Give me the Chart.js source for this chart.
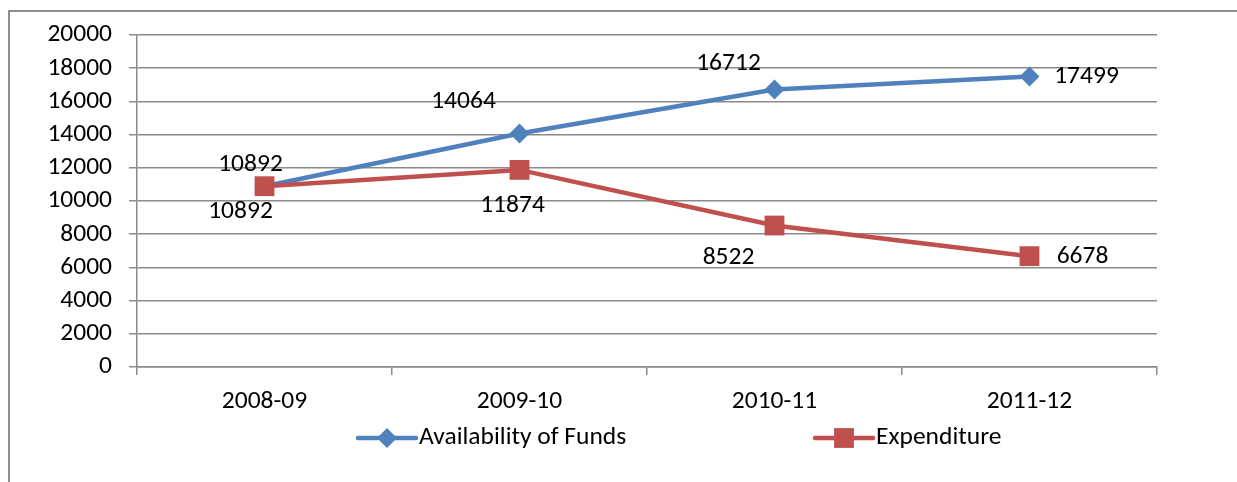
<!DOCTYPE html>
<html>
<head>
<meta charset="utf-8">
<script src="https://cdn.jsdelivr.net/npm/chart.js@4/dist/chart.umd.min.js"></script>
<style>
  html, body { margin: 0; padding: 0; background: #fff; overflow: hidden; }
  #frame { position: absolute; left: 8px; top: 10px; width: 1300px; height: 600px; border: 2px solid #8f8f8f; box-sizing: border-box; }
  #chart { position: absolute; left: 0; top: 0; }
</style>
</head>
<body>
<div id="frame"></div>
<canvas id="chart" width="1237" height="482"></canvas>
<script>
// ------ Data ------
const years        = ['2008-09', '2009-10', '2010-11', '2011-12'];
const availability = [10892, 14064, 16712, 17499];
const expenditure  = [10892, 11874, 8522, 6678];
const yTicks       = [0, 2000, 4000, 6000, 8000, 10000, 12000, 14000, 16000, 18000, 20000];

const BLUE  = '#4F81BD';
const RED   = '#C0504D';
const GRID  = '#8a8a8a';
const FONT  = 'Carlito, Calibri, "Liberation Sans", sans-serif';
const FSIZE = 25.5;

// label offsets from each point (dx, dy), per series
const labelOffsets = [
  [[-14, -22], [-56, -32], [-46, -26], [57, 0]],
  [[-24, 25], [-7, 36], [-46, 32], [53, 0]]
];

// ------ Plugins ------
const dataLabels = {
  id: 'dataLabels',
  afterDatasetsDraw(chart) {
    const { ctx } = chart;
    ctx.save();
    ctx.font = `${FSIZE}px ${FONT}`;
    ctx.fillStyle = '#000';
    ctx.textAlign = 'center';
    ctx.textBaseline = 'middle';
    chart.data.datasets.forEach((ds, i) => {
      const meta = chart.getDatasetMeta(i);
      meta.data.forEach((pt, j) => {
        const [dx, dy] = labelOffsets[i][j];
        ctx.fillText(String(ds.data[j]), pt.x + dx, pt.y + dy);
      });
    });
    ctx.restore();
  }
};

// legend positions (left end of each sample line)
const legendX = [358, 815];
const legendY = 438;

const customLegend = {
  id: 'customLegend',
  afterDraw(chart) {
    const { ctx } = chart;
    ctx.save();
    ctx.font = `${FSIZE}px ${FONT}`;
    ctx.textBaseline = 'middle';
    ctx.textAlign = 'left';
    chart.data.datasets.forEach((ds, i) => {
      const x0 = legendX[i], len = 58, cx = x0 + len / 2;
      ctx.strokeStyle = ds.borderColor;
      ctx.lineWidth = ds.borderWidth;
      ctx.lineCap = 'round';
      ctx.beginPath();
      ctx.moveTo(x0, legendY);
      ctx.lineTo(x0 + len, legendY);
      ctx.stroke();
      ctx.fillStyle = ds.pointBackgroundColor;
      ctx.beginPath();
      if (ds.pointStyle === 'rectRot') {
        const r = ds.pointRadius;
        ctx.moveTo(cx, legendY - r); ctx.lineTo(cx + r, legendY);
        ctx.lineTo(cx, legendY + r); ctx.lineTo(cx - r, legendY);
      } else {
        const h = ds.pointRadius * Math.SQRT1_2;
        ctx.rect(cx - h, legendY - h, 2 * h, 2 * h);
      }
      ctx.closePath();
      ctx.fill();
      ctx.fillStyle = '#000';
      ctx.fillText(ds.label, x0 + len + 3, legendY);
    });
    ctx.restore();
  }
};

// ------ Chart ------
new Chart(document.getElementById('chart'), {
  type: 'line',
  data: {
    labels: years,
    datasets: [
      {
        label: 'Availability of Funds', data: availability, order: 1,
        borderColor: BLUE, backgroundColor: BLUE, borderWidth: 4.5,
        pointStyle: 'rectRot', pointRadius: 10, pointBackgroundColor: BLUE,
        pointBorderColor: BLUE, pointBorderWidth: 0, tension: 0
      },
      {
        label: 'Expenditure', data: expenditure, order: 0,
        borderColor: RED, backgroundColor: RED, borderWidth: 4.5,
        pointStyle: 'rect', pointRadius: 14, pointBackgroundColor: RED,
        pointBorderColor: RED, pointBorderWidth: 0, tension: 0
      }
    ]
  },
  options: {
    responsive: false,
    animation: false,
    devicePixelRatio: 1,
    layout: { padding: { left: 0, right: 80, top: 35, bottom: 62 } },
    plugins: { legend: { display: false }, tooltip: { enabled: false } },
    scales: {
      x: {
        offset: true,
        grid: { offset: true, drawOnChartArea: false, drawTicks: true, tickLength: 8, color: GRID, lineWidth: 1.5 },
        border: { color: GRID, width: 1.5 },
        ticks: { color: '#000', font: { family: FONT, size: FSIZE }, padding: 11, maxRotation: 0 },
        afterFit: s => { s.height = 53; }
      },
      y: {
        min: 0, max: 20000,
        afterBuildTicks: s => { s.ticks = yTicks.map(v => ({ value: v })); },
        grid: { color: GRID, lineWidth: 1.5, tickLength: 8 },
        border: { color: GRID, width: 1.5 },
        ticks: {
          color: '#000', font: { family: FONT, size: FSIZE }, padding: 17,
          autoSkip: false, callback: v => String(v)
        },
        afterFit: s => { s.width = 137; }
      }
    }
  },
  plugins: [dataLabels, customLegend]
});
</script>
</body>
</html>
